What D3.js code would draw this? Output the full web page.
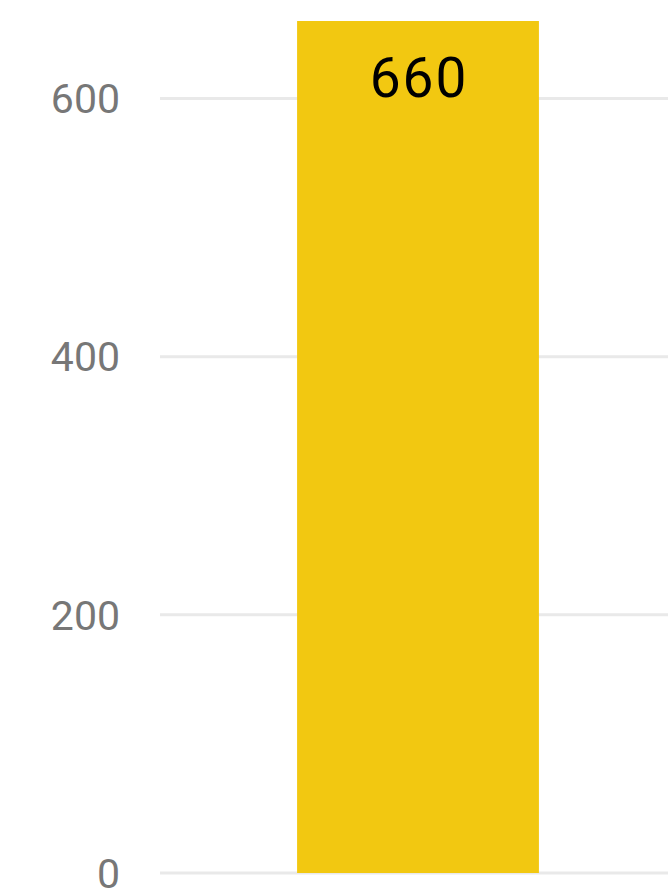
<!DOCTYPE html>
<html>
<head>
<meta charset="utf-8">
<script src="https://cdn.jsdelivr.net/npm/d3@7"></script>
<style>
  html, body { margin: 0; padding: 0; background: #fff; }
  svg { display: block; }
</style>
</head>
<body>
<svg id="chart" width="668" height="889"></svg>
<script>
// Single-category column chart
const categories = ["Total"];
const values = [660];
const tickValues = [0, 200, 400, 600];

const width = 668, height = 889;
const svg = d3.select("#chart");

const x = d3.scaleBand()
  .domain(categories)
  .range([168, 668])
  .paddingInner(0.348)
  .paddingOuter(0.348);

const y = d3.scaleLinear()
  .domain([0, 660])
  .range([873, 21]);

// Gridlines
const grid = svg.append("g").attr("class", "grid");
grid.selectAll("line")
  .data(tickValues)
  .join("line")
  .attr("x1", 160)
  .attr("x2", width)
  .attr("y1", d => y(d))
  .attr("y2", d => y(d))
  .attr("stroke", "#e9e9e9")
  .attr("stroke-width", 3);

// Y axis labels
const yAxis = d3.axisLeft(y)
  .tickValues(tickValues)
  .tickSize(0)
  .tickPadding(0)
  .tickFormat(d3.format("d"));

const axisG = svg.append("g")
  .attr("transform", "translate(120,0)")
  .call(yAxis);
axisG.select(".domain").remove();
axisG.selectAll("text")
  .attr("fill", "#777777")
  .attr("font-family", "Roboto, 'Open Sans', sans-serif")
  .attr("font-size", 41)
  .attr("dy", "0.35em");

// Bars
svg.append("g").selectAll("rect")
  .data(values)
  .join("rect")
  .attr("x", (d, i) => x(categories[i]))
  .attr("width", x.bandwidth())
  .attr("y", d => y(d))
  .attr("height", d => y(0) - y(d))
  .attr("fill", "#F2C811");

// Value labels
svg.append("g").selectAll("text")
  .data(values)
  .join("text")
  .attr("x", (d, i) => x(categories[i]) + x.bandwidth() / 2 + 1)
  .attr("y", d => y(d) + 76)
  .attr("text-anchor", "middle")
  .attr("fill", "#000")
  .attr("font-family", "Roboto, sans-serif")
  .attr("font-weight", 400)
  .attr("font-size", 55)
  .attr("letter-spacing", 2)
  .text(d => d);
</script>
</body>
</html>
